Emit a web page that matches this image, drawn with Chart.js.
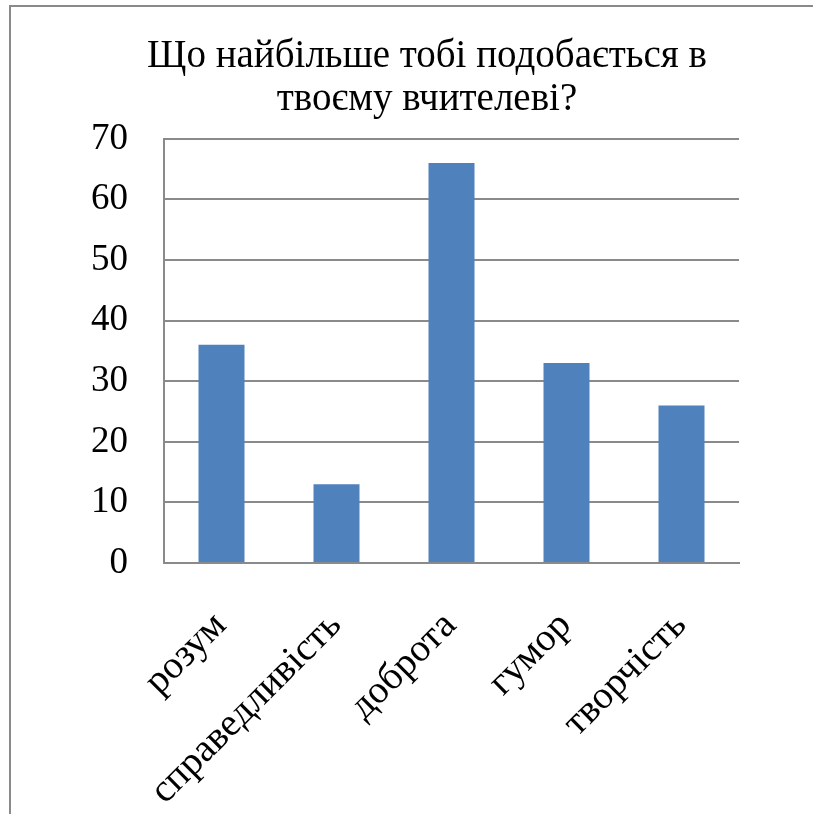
<!DOCTYPE html>
<html>
<head>
<meta charset="utf-8">
<script src="https://cdn.jsdelivr.net/npm/chart.js@4"></script>
<style>
html,body{margin:0;padding:0;background:#fff;overflow:hidden;width:813px;height:814px;}
#frame{position:absolute;left:9px;top:5px;width:900px;height:900px;border-top:2px solid #8a8a8a;border-left:2px solid #8a8a8a;}
#wrap{position:absolute;left:0;top:0;width:854px;height:814px;}
</style>
</head>
<body>
<div id="frame"></div>
<div id="wrap"><canvas id="c" width="854" height="814"></canvas></div>
<script>
const titleLines = ["Що найбільше тобі подобається в", "твоєму вчителеві?"];
const categories = ["розум", "справедливість", "доброта", "гумор", "творчість"];
const values = [36, 13, 66, 33, 26];
const yTicks = [0, 10, 20, 30, 40, 50, 60, 70];

const FONT = "'Liberation Serif', 'Times New Roman', serif";

new Chart(document.getElementById('c'), {
  type: 'bar',
  data: {
    labels: categories,
    datasets: [{
      data: values,
      backgroundColor: '#4F81BD',
      borderWidth: 0,
      barPercentage: 0.4,
      categoryPercentage: 1.0,
      yAxisID: 'y'
    }]
  },
  options: {
    responsive: false,
    animation: false,
    devicePixelRatio: 1,
    layout: { padding: 0 },
    plugins: {
      legend: { display: false },
      tooltip: { enabled: false },
      title: {
        display: true,
        text: titleLines,
        color: '#000',
        font: { family: FONT, size: 39, weight: 'normal', lineHeight: 1.1 },
        padding: { top: 35, bottom: 18 }
      }
    },
    scales: {
      x: {
        grid: { display: false, drawTicks: false },
        border: { display: true, color: '#8a8a8a', width: 2 },
        ticks: {
          color: '#000',
          font: { family: FONT, size: 39 },
          minRotation: 45,
          maxRotation: 45,
          padding: 40,
          labelOffset: -1,
          autoSkip: false
        },
        afterFit: s => { s.height = 251; }
      },
      y: {
        min: 0,
        max: 70,
        afterBuildTicks: s => { s.ticks = yTicks.map(v => ({ value: v })); },
        grid: { color: '#8a8a8a', lineWidth: 2, drawTicks: false },
        border: { display: true, color: '#8a8a8a', width: 2 },
        ticks: {
          color: '#000',
          font: { family: FONT, size: 37 },
          padding: 36
        },
        afterFit: s => { s.width = 164; }
      },
      yRight: {
        position: 'right',
        min: 0,
        max: 70,
        grid: { display: false, drawTicks: false },
        border: { display: false },
        ticks: { display: false },
        afterFit: s => { s.width = 115; }
      }
    }
  }
});
</script>
</body>
</html>
